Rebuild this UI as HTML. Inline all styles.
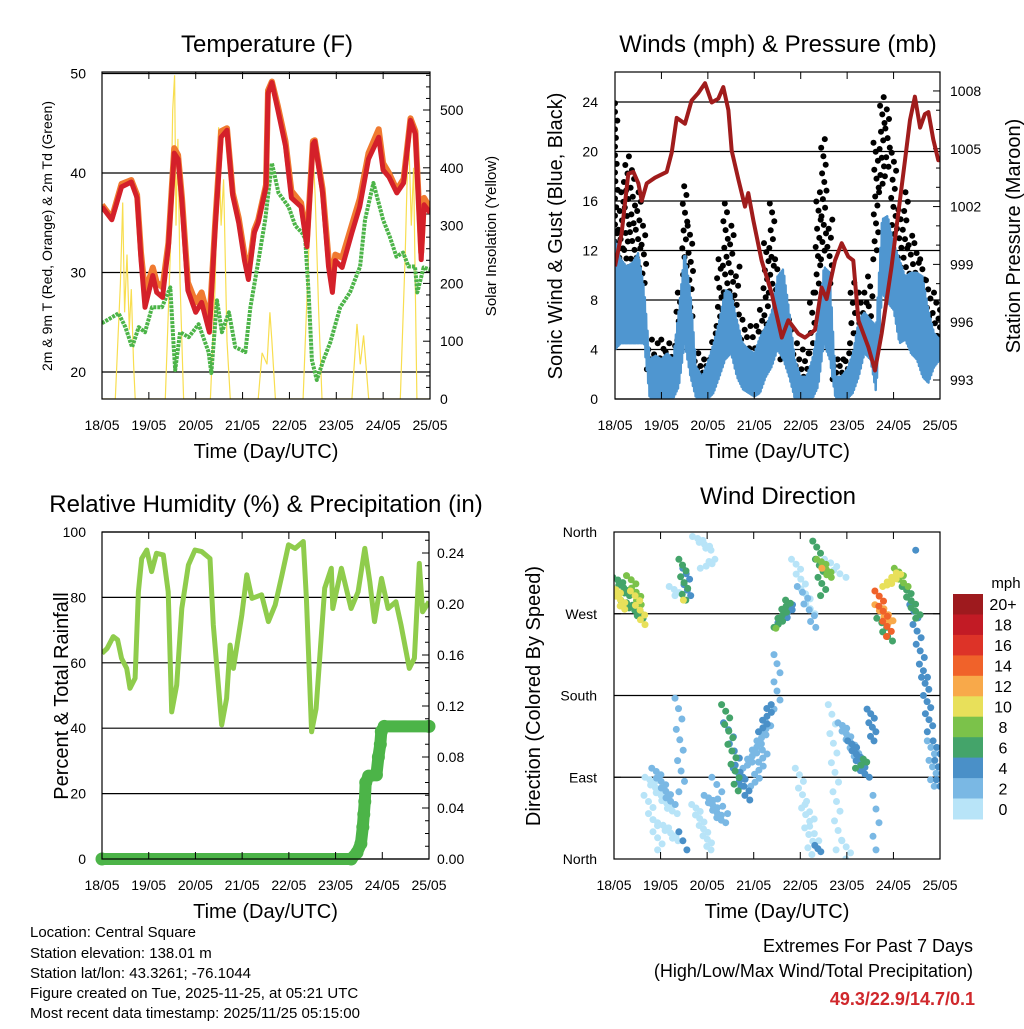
<!DOCTYPE html>
<html><head><meta charset="utf-8"><style>
body{margin:0;background:#fff;}
svg text{font-family:"Liberation Sans",sans-serif;fill:#000;}
</style></head><body>
<svg id="chart" width="1024" height="1024" viewBox="0 0 1024 1024" xmlns="http://www.w3.org/2000/svg">
<defs>
<clipPath id="c1"><rect x="102" y="72" width="328" height="327"/></clipPath>
<clipPath id="c2"><rect x="615" y="72" width="325" height="327"/></clipPath>
<clipPath id="c3"><rect x="102" y="532" width="327" height="327"/></clipPath>
<clipPath id="c4"><rect x="614" y="532" width="326" height="327"/></clipPath>
</defs>
<g id="g1"></g>
<g id="g2"></g>
<g id="g3"></g>
<g id="g4"></g>
<g id="gt">
<text x="30" y="937" font-size="15">Location: Central Square</text>
<text x="30" y="958" font-size="15">Station elevation: 138.01 m</text>
<text x="30" y="978" font-size="15">Station lat/lon: 43.3261; -76.1044</text>
<text x="30" y="998" font-size="15">Figure created on Tue, 2025-11-25, at 05:21 UTC</text>
<text x="30" y="1018" font-size="15">Most recent data timestamp: 2025/11/25 05:15:00</text>
<text x="973" y="952" font-size="18" text-anchor="end">Extremes For Past 7 Days</text>
<text x="973" y="977" font-size="18" text-anchor="end">(High/Low/Max Wind/Total Precipitation)</text>
<text x="975" y="1005" font-size="18" font-weight="bold" text-anchor="end" style="fill:#d0282c">49.3/22.9/14.7/0.1</text>
</g>
</svg>
<script>
// ---------- DATA ----------
const dayLabels = ["18/05","19/05","20/05","21/05","22/05","23/05","24/05","25/05"];
const tempHours = [0,5,10,15,18,20,22,26,28,31,34,37,39,41,44,48,51,55,58,61,64,67,70,73,75,78,80,84,85,87,90,94,97,102,105,108,109,113,116,118,119.5,123,128,132,136.5,141.7,144,147,151,154.5,158,160.5,163.5,165,168];
const temp2mValues = [36.6,35.3,38.6,39.1,37.5,31.3,26.5,29.7,28,27.5,32.6,42,41.4,37,28.2,26,27,24,34.6,43.6,44.3,37.7,35,31.2,29.3,34,35,38.6,48,49.1,46.4,42.7,37.5,36.6,32.6,42.9,43.2,38,30.6,28,31.2,30.5,34,36.6,41.4,43.6,40.3,39.6,38,39,45.3,43.9,31.3,36.8,36];
const temp9mValues = [36.8,35.5,38.9,39.3,37.8,32,28,30.5,29,28.5,33,42.5,41.8,37.5,29,27,28,25,35,44.2,44.5,38,35.5,31.8,30,34.3,35.3,38.8,48.3,49.2,46.8,43.2,38.2,37,33.2,43.2,43.3,38.4,31.5,29.2,31.8,31.5,34.8,37.4,42,44.4,41,40,38.3,39.4,45.5,44.2,32,37.5,36.5];
const dewHours = [0,8.5,12,15.4,18.8,22,25.6,30.7,35,36.7,37.5,40,44.4,49.5,54.6,56,58.9,61.4,65,68.3,73.4,76,80.2,83.6,87,90.4,95.6,99,102.4,104.1,105.8,107.5,110,113.4,117,122,127,132.2,134.7,139,144,147.4,150.8,154.2,157,160.3,161.5,164.7,168];
const dewValues = [24.9,25.9,24.5,22.5,24.5,24,26.5,26.5,28.5,22.5,20.2,24,23.5,24.8,22,19.9,27.2,24,26,22.5,22,26.5,31.3,35.3,41,38,36.6,34.7,34,33.4,28,21.2,19.2,21.2,23,26.5,28,30.6,35.3,39,35.3,33.6,31.6,32,30.6,30.6,28,30.5,30.3];
const solarHours = [0,6.8,9.4,10.6,11.6,12.8,14,15,16.2,17,32.4,35,36.2,37.2,37.9,38.9,40,41.8,55.5,58,59.7,61,62.3,64,65.7,80,82,84.5,86,87,88.8,103,105.8,107.9,109.2,111,112.7,128,130.6,132.3,134,136.6,152.8,155.3,157,158.4,159.6,161.3,168];
const solarValues = [0,0,200,340,150,250,120,190,60,0,0,250,500,560,300,450,200,0,0,200,470,300,380,100,0,0,80,60,150,100,0,0,250,440,350,150,0,0,130,60,110,0,0,250,470,300,400,0,0];
const windBinHours = [0,3,6,9,12,15,18,21,24,27,30,33,36,39,42,45,48,51,54,57,60,63,66,69,72,75,78,81,84,87,90,93,96,99,102,105,108,111,114,117,120,123,126,129,132,135,138,141,144,147,150,153,156,159,162,165,168];
const windHigh = [12.9,11.3,10.7,11,11.8,9,3.2,3.5,3.2,3.7,3.2,7.2,12,8.6,2.6,1.8,3,4.5,6.4,8.8,8.6,6.4,4.5,4,3.7,5,5.9,7,9.9,10.5,7.2,3.2,1.8,1.8,3.2,5.9,10.7,10.2,1.8,1.8,2.4,3.7,6.4,7,6.4,5.9,14.5,14.8,12.6,11.3,9.9,10.2,10.2,9.9,7.2,5.3,4.8];
const windLow = [4,4.5,4.5,4.5,4.5,4.5,0,0,0,0,0,1,4.5,1.8,0,0,0,0.5,1.8,3.2,3.7,1.8,0.8,0.5,0.2,0.5,1.8,2.6,4,3.2,1.8,0,0,0,0,1,4.5,3.2,0,0,0,0.5,1.8,3.7,3.2,0.5,8.6,7.8,7.2,4.5,4.8,3.7,3.2,1.8,1.3,2.6,3.2];
const gustHigh = [23.9,16.7,19.6,18.5,16.7,14,4.8,4.5,4.8,4.5,4.3,8.6,17.2,14,3.7,3.2,3.2,5.3,11.3,15.8,14,10.7,6.4,5.9,5.9,7.2,12.6,15.8,11.3,5.9,6.4,4.5,4,3.7,8.6,16.7,21,14.5,3.2,3.2,3.7,9.4,8.6,8.6,9.9,20.7,24.4,23.4,19.9,15.3,16.7,13.2,12.6,11.3,9.6,8.6,7.2];
const gustLow = [11.3,9.9,8.6,9.9,9.9,8.6,2.4,1.8,1.8,2.4,1.6,3.2,8.6,4.5,1.8,1.6,1.6,3.2,5.9,7.2,7.2,4.5,3.2,3.2,3.2,3.7,5.3,8.6,7.2,3.2,3.2,1.8,1.6,1.8,3.7,8.6,11.3,8.6,1.6,1.6,1.8,4.5,5.3,5.3,5.9,11.3,16.7,18,12.6,9.9,9.9,8.6,8.6,7.2,5.9,5.3,5.1];
const pressHours = [0,3.4,6.9,9.5,12.1,13.8,16.4,20.7,26.7,29.3,31.9,36.2,39.6,43.1,46.5,50,53.4,56,58.6,60.3,63.8,67.2,68.9,71.5,75.8,81,86.2,89.6,94.8,98.2,103.4,106.8,109.4,113.7,117.2,120.6,123.2,125.8,131,134.4,137.8,143,146.5,149.9,152.5,155,157.7,160.2,162,164.5,167.1,168];
const pressValues = [998.9,1000.6,1003.7,1003.8,1003.2,1002.3,1003.2,1003.5,1003.8,1004.8,1006.6,1006.3,1007.5,1007.9,1008.4,1007.4,1007.6,1008.2,1007,1004.9,1003.4,1002,1002.7,1001.3,999.2,997.5,995.2,996.1,995.4,995.2,995.6,997.8,997.2,999.2,1000.1,999.4,999.2,996.1,994.7,993.5,995.4,998.9,1001.7,1004.4,1006.5,1007.7,1006.1,1006.8,1006.9,1005.5,1004.4,1004.4];
const rhHours = [0,2.6,5.8,8,10,12.7,14.4,17,18.7,20.4,23,25.5,28,31.5,34,35.8,38.4,41,44.4,47.8,51.2,55.5,57.2,61.5,64,65.8,67.5,71.8,74.4,77,82,85.5,89,92.5,95.8,99.2,103.4,105,107.7,110,114.4,117.8,118.6,123,128,131.6,135,137.6,140,143.6,147,151,153.6,157.9,160.5,163,164.7,168];
const rhValues = [62.9,64.4,68,67,61.4,58.3,52.2,55.3,81.7,91.9,94.5,87.9,93.5,93,81.7,45,53.2,76.6,89.9,94.5,94,91.9,71.6,41,49.1,65.4,58.3,74.6,86.9,79.7,80.8,72.6,77.7,86.9,96.1,95,97.1,79.7,38.9,46,82.8,88.9,76.6,88.9,76.6,81.7,95,84.8,72.6,85.8,76.6,78.7,71.6,58.3,61.4,90.4,75.6,78.7];
const precipHours = [0,128,131,133,134,134.5,135,135.5,137,141,142,143,143.5,145,168];
const precipValues = [0,0,0.005,0.012,0.025,0.035,0.045,0.06,0.065,0.066,0.08,0.09,0.1,0.104,0.104];
const dirStartHours = [0.3,1,8,10,5,17.5,17,21,24,33,35,35,37,30,42,46,41.6,48,52,57,58,63,68,72,76,84,84,86,93,96,95,100,105,104,106,110,112,119,117,122,126,132,135,136,136,140,137,146,150,154,160,163,166,157,37.3,85,108.7];
const dirEndHours = [5.5,8,14,16,15,31,24,30,33,35,36,37,38,33,50,52,50,56,57,64,67,70,80,78,81,84,90,92,102,104,102,104,105,108,112,118,116,121,126,130,130,134,135,142,143,147,142,150,157,160,163,165,168,157,37.3,85,108.7];
const dirStartDeg = [300,310,312,295,285,90,70,100,40,177,30,330,320,300,355,320,60,70,90,170,150,100,100,80,140,225,255,260,330,300,100,60,15,350,330,330,170,20,150,130,100,165,70,295,280,300,265,320,300,280,200,130,130,340,285,254,320];
const dirEndDeg = [275,290,280,258,265,50,10,60,20,74,10,285,290,290,340,330,10,40,50,75,80,65,150,120,170,165,285,280,270,255,5,20,8,290,310,310,10,0,110,90,110,130,10,245,260,315,240,300,265,200,140,80,80,340,285,254,320];
const dirSpeeds = [10,7,8,11,6,1,0,3,1,3,4,7,4,0,0,0,0,2,2,7,5,5,3,2,4,3,7,5,1,2,0,1,4,6,9,1,0,0,2,4,6,4,2,14,12,10,6,8,6,5,4,3,4,4,10,9,12];
const dirCounts = [8,8,8,8,8,15,10,12,8,10,3,8,6,4,8,5,14,12,6,14,10,8,16,10,8,7,10,8,12,8,14,6,3,10,8,6,16,4,14,12,4,8,5,10,10,10,6,6,10,12,10,8,8,1,1,1,1];
const speedLabels = ["0","2","4","6","8","10","12","14","16","18","20+"];
const speedColors = ["#b8e4f8","#7ab8e4","#4a90c8","#44a46a","#7bc24a","#e8e05a","#f8a94a","#f0622a","#dd3328","#c21b25","#9e1a1e"];

// ---------- HELPERS ----------
const NS="http://www.w3.org/2000/svg";
function mk(tag,attrs,parent){const e=document.createElementNS(NS,tag);for(const k in attrs)e.setAttribute(k,attrs[k]);parent.appendChild(e);return e;}
function txt(parent,x,y,s,size,anchor,rot){const t=mk('text',{x:x,y:y,'font-size':size,'text-anchor':anchor||'middle'},parent);if(rot)t.setAttribute('transform','rotate('+rot+' '+x+' '+y+')');t.textContent=s;return t;}
function pathFrom(xs,ys,sx,sy){let d='';for(let i=0;i<xs.length;i++){d+=(i?'L':'M')+sx(xs[i]).toFixed(1)+' '+sy(ys[i]).toFixed(1);}return d;}
function interp(xs,ys,x){if(x<=xs[0])return ys[0];for(let i=1;i<xs.length;i++){if(x<=xs[i]){const f=(x-xs[i-1])/(xs[i]-xs[i-1]);return ys[i-1]+(ys[i]-ys[i-1])*f;}}return ys[ys.length-1];}
function xAxis(g,x0,x1,yTop,yBot){
  for(let i=0;i<dayLabels.length;i++){const x=x0+(x1-x0)*i/7;
    const tk=mk('line',{x1:x,y1:yBot,x2:x,y2:yBot-7,stroke:'#000','stroke-width':1},g);
    mk('line',{x1:x,y1:yTop,x2:x,y2:yTop+7,stroke:'#000','stroke-width':1},g);
    const t=txt(g,x,yBot+31,dayLabels[i],14);}
  const t=txt(g,(x0+x1)/2,yBot+59,'Time (Day/UTC)',20);
}
function box(g,x0,y0,x1,y1){const r=mk('rect',{x:x0,y:y0,width:x1-x0,height:y1-y0,fill:'none',stroke:'#000','stroke-width':1.2},g);}
function grid(g,x0,x1,y){const l=mk('line',{x1:x0,y1:y,x2:x1,y2:y,stroke:'#000','stroke-width':1.2},g);}

// ---------- PANEL 1 ----------
(function(){
  const g=document.getElementById('g1');const X0=102,X1=430,Y0=72,Y1=399;
  const sx=h=>X0+h/168*(X1-X0), sy=t=>372-(t-20)*9.95, ss=v=>399-v*0.578;
  const title=txt(g,267,52,'Temperature (F)',24);
  [20,30,40,50].forEach(v=>{grid(g,X0,X1,sy(v));const t=txt(g,86,sy(v)+5,String(v),14,'end');});
  for(let v=0;v<=560;v+=20){const y=ss(v);if(y<Y0)break;const major=v%100===0;mk('line',{x1:X1,y1:y,x2:X1-(major?7:4),y2:y,stroke:'#000'},g);
    if(major){const t=txt(g,440,y+5,String(v),14,'start');}}
  const c=mk('g',{'clip-path':'url(#c1)'},g);
  const sol=mk('path',{d:pathFrom(solarHours,solarValues,sx,ss),fill:'none',stroke:'#f8de50','stroke-width':1.2},c);
  const dw=mk('path',{d:pathFrom(dewHours,dewValues,sx,sy),fill:'none',stroke:'#4cb448','stroke-width':4,'stroke-dasharray':'3 1','stroke-linejoin':'round'},c);
  const o=mk('path',{d:pathFrom(tempHours,temp9mValues,sx,sy),fill:'none',stroke:'#f07a30','stroke-width':6,'stroke-linejoin':'round'},c);
  const r=mk('path',{d:pathFrom(tempHours,temp2mValues,sx,sy),fill:'none',stroke:'#d4202a','stroke-width':5,'stroke-linejoin':'round'},c);
  box(g,X0,Y0,X1,Y1);xAxis(g,X0,X1,Y0,Y1);
  const yt=txt(g,52,236,'2m & 9m T (Red, Orange) & 2m Td (Green)',14,'middle',-90);
  const yt2=txt(g,496,236,'Solar Insolation (Yellow)',15,'middle',-90);
})();

// ---------- PANEL 2 ----------
(function(){
  const g=document.getElementById('g2');const X0=615,X1=940,Y0=72,Y1=399;
  const sx=h=>X0+h/168*(X1-X0), sy=w=>399-w*12.375, sp=p=>380-(p-993)*19.27;
  const title=txt(g,778,52,'Winds (mph) & Pressure (mb)',24);
  for(let v=0;v<=24;v+=4){grid(g,X0,X1,sy(v));const t=txt(g,598,sy(v)+5,String(v),14,'end');}
  for(let p=992;p<=1009;p++){const y=sp(p);if(y<Y0||y>Y1)continue;const major=(p-993)%3===0;mk('line',{x1:X1,y1:y,x2:X1-(major?7:4),y2:y,stroke:'#000'},g);
    if(major){const t=txt(g,950,y+5,String(p),14,'start');}}
  const c=mk('g',{'clip-path':'url(#c2)'},g);
  // gust dots (spread across each 3-hour bin)
  for(let i=0;i<windBinHours.length;i++){
    const n=Math.max(4,Math.round((gustHigh[i]-gustLow[i])*1.5));
    for(let k=0;k<n;k++){const f=n>1?k/(n-1):0.5;const h=windBinHours[i]+(((k*0.618)%1)-0.5)*3;
      const d=mk('circle',{cx:sx(Math.max(0,Math.min(168,h))).toFixed(1),cy:sy(gustLow[i]+(gustHigh[i]-gustLow[i])*f).toFixed(1),r:3,fill:'#000'},c);
      }}
  // sonic wind: spiky trace alternating between low/high envelope
  let d='';let k=0;
  for(let h=0;h<=168;h+=0.35){const hi=interp(windBinHours,windHigh,h),lo=interp(windBinHours,windLow,h);const v=(k%2===0)?hi:lo;d+=(k?'L':'M')+sx(h).toFixed(1)+' '+sy(v).toFixed(1);k++;}
  const band=mk('path',{d:d,fill:'none',stroke:'#4f96d0','stroke-width':2.5,'stroke-linejoin':'round'},c);
  const pr=mk('path',{d:pathFrom(pressHours,pressValues,sx,sp),fill:'none',stroke:'#a01c1c','stroke-width':4,'stroke-linejoin':'round'},c);
  box(g,X0,Y0,X1,Y1);xAxis(g,X0,X1,Y0,Y1);
  const yt=txt(g,562,236,'Sonic Wind & Gust (Blue, Black)',20,'middle',-90);
  const yt2=txt(g,1020,236,'Station Pressure (Maroon)',20,'middle',-90);
})();

// ---------- PANEL 3 ----------
(function(){
  const g=document.getElementById('g3');const X0=102,X1=429,Y0=532,Y1=859;
  const sx=h=>X0+h/168*(X1-X0), sy=v=>859-v*3.27, sq=v=>859-v*1275;
  const title=txt(g,266,512,'Relative Humidity (%) & Precipitation (in)',24);
  for(let v=0;v<=100;v+=20){grid(g,X0,X1,sy(v));const t=txt(g,86,sy(v)+5,String(v),14,'end');}
  for(let k=0;k<=25;k++){const v=k*0.01,y=sq(v);if(y<Y0)break;const major=k%4===0;mk('line',{x1:X1,y1:y,x2:X1-(major?7:4),y2:y,stroke:'#000'},g);
    if(major){const t=txt(g,437,y+5,v.toFixed(2),14,'start');}}
  const c=mk('g',{'clip-path':'url(#c3)'},g);
  const rh=mk('path',{d:pathFrom(rhHours,rhValues,sx,sy),fill:'none',stroke:'#8fcc4c','stroke-width':5,'stroke-linejoin':'round'},c);
  const pl=mk('path',{d:pathFrom(precipHours,precipValues,sx,sq),fill:'none',stroke:'#4cb448','stroke-width':12,'stroke-linecap':'round','stroke-linejoin':'round'},g);
  for(let i=0;i<precipHours.length;i++){const p=mk('circle',{cx:sx(precipHours[i]),cy:sq(precipValues[i]),r:6.5,fill:'#4cb448'},g);}
  box(g,X0,Y0,X1,Y1);xAxis(g,X0,X1,Y0,Y1);
  const yt=txt(g,68,696,'Percent & Total Rainfall',20,'middle',-90);
})();

// ---------- PANEL 4 ----------
(function(){
  const g=document.getElementById('g4');const X0=614,X1=940,Y0=532,Y1=859;
  const sx=h=>X0+h/168*(X1-X0), sy=d=>859-d/360*327;
  const title=txt(g,778,504,'Wind Direction',24);
  const names=['North','East','South','West','North'];
  for(let i=0;i<5;i++){const y=sy(i*90);if(i>0&&i<4)grid(g,X0,X1,y);mk('line',{x1:X0,y1:y,x2:X0+7,y2:y,stroke:'#000'},g);mk('line',{x1:X1,y1:y,x2:X1-7,y2:y,stroke:'#000'},g);
    const t=txt(g,597,y+5,names[i],14,'end');}
  const c=mk('g',{'clip-path':'url(#c4)'},g);
  const order=dirSpeeds.map((s,i)=>i).sort((a,b)=>dirSpeeds[a]-dirSpeeds[b]);
  order.forEach(i=>{const n=dirCounts[i];const col=speedColors[Math.min(10,Math.floor(dirSpeeds[i]/2))];
    for(let k=0;k<n;k++){const f=n>1?k/(n-1):0.5;const h=dirStartHours[i]+(dirEndHours[i]-dirStartHours[i])*f;const dd=dirStartDeg[i]+(dirEndDeg[i]-dirStartDeg[i])*f;
      const p=mk('circle',{cx:(sx(h)+((k%3)-1)*3).toFixed(1),cy:sy(dd).toFixed(1),r:3.5,fill:col},c);
      }});
  box(g,X0,Y0,X1,Y1);xAxis(g,X0,X1,Y0,Y1);
  const yt=txt(g,540,696,'Direction (Colored By Speed)',20,'middle',-90);
  const cb=mk('g',{},g);
  const u=txt(cb,1006,588,'mph',15);
  const bh=225/11;
  for(let i=0;i<11;i++){const idx=10-i;const y=594+i*bh;
    const r=mk('rect',{x:953,y:y.toFixed(1),width:30,height:(bh+0.5).toFixed(1),fill:speedColors[idx]},cb);
    const t=txt(cb,1003,y+bh/2+6,speedLabels[idx],16);}
})();
</script>
</body></html>
